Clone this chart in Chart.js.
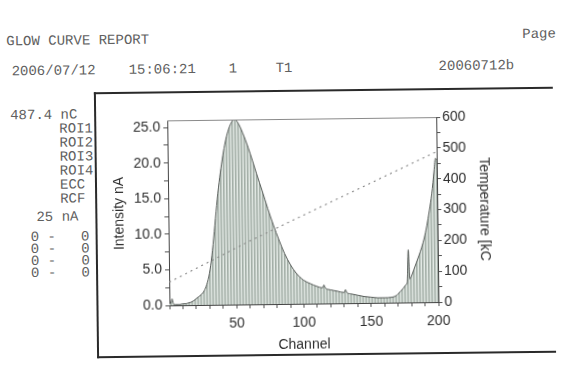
<!DOCTYPE html>
<html>
<head>
<meta charset="utf-8">
<script src="https://cdn.jsdelivr.net/npm/chart.js@4.4.1/dist/chart.umd.min.js"></script>
<style>
  html, body { margin: 0; padding: 0; background: #fff; }
  #page { position: relative; width: 561px; height: 368px; overflow: hidden;
          transform: rotate(-0.7deg); transform-origin: 280px 184px; background: #fff; }
  .t { position: absolute; font-family: "Liberation Mono", "DejaVu Sans Mono", monospace;
       font-size: 14px; line-height: 14px; color: #606060; white-space: pre; }
  #frame { position: absolute; left: 95px; top: 90px; width: 459px; height: 266px;
           box-sizing: border-box; border-top: 2px solid #2a2a2a;
           border-bottom: 2px solid #2a2a2a; border-left: 2px solid #2a2a2a; }
  #chart { position: absolute; left: 97px; top: 92px; }
</style>
</head>
<body>
<div id="page">
  <div class="t" style="left:8px;top:31px">GLOW CURVE REPORT</div>
  <div class="t" style="left:524px;top:30px">Page</div>
  <div class="t" style="left:13px;top:61px">2006/07/12</div>
  <div class="t" style="left:130px;top:61px">15:06:21</div>
  <div class="t" style="left:230px;top:61px">1</div>
  <div class="t" style="left:277px;top:61px">T1</div>
  <div class="t" style="left:440px;top:61px">20060712b</div>

  <div class="t" style="left:11px;top:105px">487.4 nC</div>
  <div class="t" style="left:60px;top:119px">ROI1</div>
  <div class="t" style="left:60px;top:133px">ROI2</div>
  <div class="t" style="left:60px;top:147px">ROI3</div>
  <div class="t" style="left:60px;top:161px">ROI4</div>
  <div class="t" style="left:60px;top:175px">ECC</div>
  <div class="t" style="left:60px;top:189px">RCF</div>
  <div class="t" style="left:36px;top:207px">25 nA</div>
  <div class="t" style="left:30px;top:227px">0 -   0</div>
  <div class="t" style="left:30px;top:239px">0 -   0</div>
  <div class="t" style="left:30px;top:251px">0 -   0</div>
  <div class="t" style="left:30px;top:263px">0 -   0</div>

  <div id="frame"></div>
  <canvas id="chart" width="457" height="262"></canvas>
</div>

<script>
// Glow curve: channel number and photomultiplier current (nA)
const channels = [0, 1, 2, 3, 4, 6, 8, 10, 12, 14, 16, 18, 20, 22, 24, 26, 28, 30, 32, 34,
  36, 38, 40, 42, 44, 46, 48, 50, 52, 54, 56, 58, 60, 63, 66, 70, 74, 78, 82, 86,
  90, 95, 100, 105, 110, 114, 115, 116, 120, 125, 130, 131, 132, 135, 140, 145, 150, 155, 160, 165,
  168, 170, 172, 174, 176, 177, 178, 179, 180, 182, 184, 186, 188, 190, 192, 194, 196, 197, 198, 199, 200];
const intensity = [0.2, 0.3, 0.9, 0.2, 0.1, 0.1, 0.1, 0.2, 0.2, 0.3, 0.4, 0.6, 0.9, 1.2, 1.5, 2.0, 2.9, 4.4, 6.9, 10.3,
  14.0, 17.2, 19.8, 22.0, 23.7, 24.9, 25.7, 26.0, 25.7, 25.0, 24.1, 23.1, 22.0, 20.2, 18.3, 15.9, 13.4, 11.1, 9.0, 7.1,
  5.6, 4.2, 3.3, 2.8, 2.4, 2.2, 2.6, 2.2, 1.9, 1.7, 1.5, 1.9, 1.5, 1.3, 1.1, 0.9, 0.8, 0.7, 0.7, 0.75,
  0.9, 1.2, 1.6, 2.0, 2.5, 2.8, 7.4, 3.3, 3.6, 4.6, 5.6, 6.6, 7.7, 9.0, 10.7, 12.8, 15.2, 16.8, 18.6, 20.2, 20.0];

// Heater temperature ramp (°C) against channel
const tempChannels = [0, 60, 124, 200];
const temperature = [75, 205, 335, 488];

// Labelled tick values
const channelTicks = [50, 100, 150, 200];
const intensityTicks = [0, 5, 10, 15, 20, 25];
const temperatureTicks = [0, 100, 200, 300, 400, 500, 600];

// Vertical hatching used to fill the area under the glow curve
function hatch() {
  const c = document.createElement('canvas');
  c.width = 3; c.height = 4;
  const g = c.getContext('2d');
  g.fillStyle = '#bfc9c2'; g.fillRect(0, 0, 3, 4);
  g.fillStyle = '#a3aea7'; g.fillRect(0, 0, 1, 4);
  g.fillStyle = '#e3e9e5'; g.fillRect(2, 0, 1, 4);
  return g.createPattern(c, 'repeat');
}

// Thin line closing the top of the plot frame
const topEdge = {
  id: 'topEdge',
  afterDraw(chart) {
    const { ctx, chartArea: a } = chart;
    ctx.save();
    ctx.strokeStyle = '#8a8a8a';
    ctx.lineWidth = 1;
    ctx.beginPath();
    ctx.moveTo(a.left, Math.round(a.top) + 0.5);
    ctx.lineTo(a.right, Math.round(a.top) + 0.5);
    ctx.stroke();
    ctx.restore();
  }
};

const font = { family: '"Liberation Sans", Arial, sans-serif', size: 14 };
const ink = '#2e2e2e';

new Chart(document.getElementById('chart'), {
  type: 'line',
  data: {
    datasets: [
      {
        label: 'Temperature',
        data: tempChannels.map((c, i) => ({ x: c, y: temperature[i] })),
        yAxisID: 'y2',
        borderColor: '#858585',
        borderWidth: 1.1,
        borderDash: [2, 4],
        pointRadius: 0,
        fill: false
      },
      {
        label: 'Intensity',
        data: channels.map((c, i) => ({ x: c, y: intensity[i] })),
        yAxisID: 'y',
        borderColor: '#555a57',
        borderWidth: 1,
        backgroundColor: hatch(),
        fill: 'origin',
        pointRadius: 0,
        cubicInterpolationMode: 'monotone'
      }
    ]
  },
  options: {
    responsive: false,
    animation: false,
    devicePixelRatio: 1,
    layout: { padding: { top: 27, left: 0, right: 0, bottom: 0 } },
    plugins: { legend: { display: false }, tooltip: { enabled: false } },
    scales: {
      x: {
        type: 'linear', min: 0, max: 200,
        afterFit(s) { s.height = 50; },
        ticks: {
          stepSize: 10, autoSkip: false, maxRotation: 0, padding: 7, color: ink, font,
          callback: v => channelTicks.includes(v) ? String(v) : ''
        },
        grid: { drawOnChartArea: false, tickLength: 4, color: '#555' },
        border: { color: '#444', width: 1 },
        title: { display: true, text: 'Channel', color: ink, font, padding: { top: 0, bottom: 0 } }
      },
      y: {
        position: 'left', min: 0, max: 26,
        afterFit(s) { s.width = 71; },
        ticks: {
          stepSize: 2.5, includeBounds: false, autoSkip: false, padding: 3, color: ink, font,
          callback: v => intensityTicks.includes(v) ? v.toFixed(1) : ''
        },
        grid: { drawOnChartArea: false, tickLength: 4, color: '#555' },
        border: { color: '#444', width: 1 },
        title: { display: true, text: 'Intensity nA', color: ink, font, padding: { top: 14, bottom: 0 } }
      },
      y2: {
        position: 'right', min: 0, max: 600,
        afterFit(s) { s.width = 117; },
        ticks: {
          stepSize: 50, includeBounds: false, autoSkip: false, padding: 2, color: ink, font,
          callback: v => temperatureTicks.includes(v) ? String(v) : ''
        },
        grid: { drawOnChartArea: false, tickLength: 4, color: '#555' },
        border: { color: '#444', width: 1 },
        title: { display: true, text: 'Temperature [kC', color: ink, font, padding: { top: 62, bottom: 0 } }
      }
    }
  },
  plugins: [topEdge]
});
</script>
</body>
</html>
